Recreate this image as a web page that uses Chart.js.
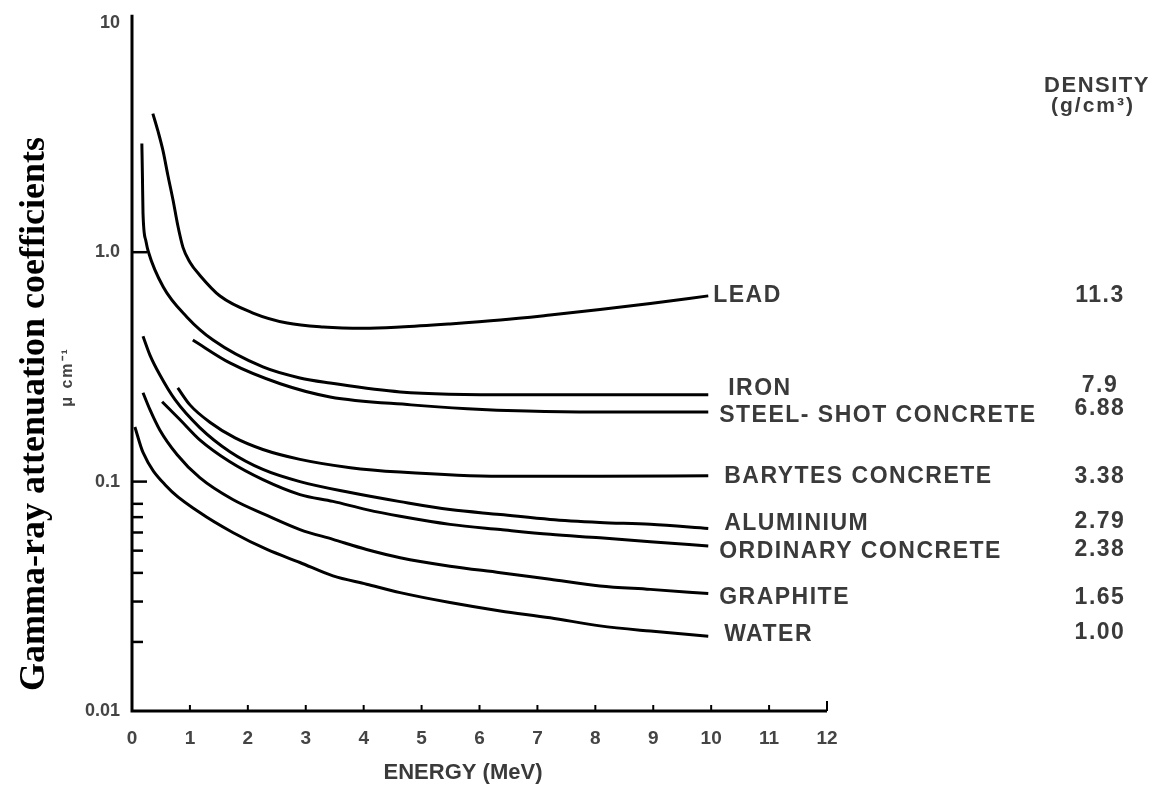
<!DOCTYPE html>
<html>
<head>
<meta charset="utf-8">
<script src="https://cdn.jsdelivr.net/npm/chart.js@4.4.1/dist/chart.umd.min.js"></script>
<style>
  html, body { margin: 0; padding: 0; background: #fff; }
  #wrap { width: 1152px; height: 785px; }
</style>
</head>
<body>
<div id="wrap"><canvas id="chart" width="1152" height="785"></canvas></div>
<script>
// Photon energy (MeV) and linear attenuation coefficient mu (cm^-1) per material
const leadEnergy     = [0.36, 0.45, 0.535, 0.62, 0.71, 0.79, 0.88, 1.00, 1.17, 1.52, 2.09, 2.68, 3.30, 4.00, 4.63, 5.49, 6.36, 7.22, 8.08, 8.95, 9.95];
const leadMu         = [4.02, 3.36, 2.77, 2.16, 1.68, 1.31, 1.05, 0.905, 0.794, 0.644, 0.543, 0.491, 0.472, 0.466, 0.472, 0.487, 0.506, 0.532, 0.562, 0.598, 0.645];

const ironEnergy     = [0.17, 0.18, 0.19, 0.24, 0.28, 0.54, 0.95, 1.40, 2.26, 2.90, 3.42, 4.63, 6.65, 9.95];
const ironMu         = [2.98, 2.16, 1.48, 1.12, 1.01, 0.705, 0.521, 0.414, 0.316, 0.283, 0.269, 0.246, 0.239, 0.239];

const steelShotEnergy = [1.05, 1.69, 2.56, 3.42, 4.82, 5.79, 6.82, 8.00, 9.95];
const steelShotMu     = [0.414, 0.329, 0.267, 0.234, 0.216, 0.208, 0.203, 0.201, 0.201];

const barytesEnergy  = [0.79, 1.00, 1.35, 1.78, 2.26, 2.90, 3.77, 4.63, 6.36, 8.08, 9.95];
const barytesMu      = [0.256, 0.216, 0.181, 0.155, 0.138, 0.125, 0.115, 0.110, 0.1054, 0.1054, 0.106];

const aluminiumEnergy = [0.19, 0.31, 0.48, 0.74, 1.17, 1.69, 2.26, 2.90, 3.77, 4.63, 5.49, 6.36, 7.22, 8.08, 8.95, 9.95];
const aluminiumMu     = [0.430, 0.356, 0.292, 0.228, 0.172, 0.135, 0.113, 0.100, 0.0896, 0.0818, 0.0755, 0.0719, 0.0684, 0.0664, 0.0651, 0.0625];

const concreteEnergy = [0.52, 0.83, 1.17, 1.69, 2.26, 2.90, 3.47, 4.05, 4.63, 5.49, 6.36, 7.22, 8.08, 8.95, 9.95];
const concreteMu     = [0.223, 0.186, 0.152, 0.122, 0.102, 0.0878, 0.0820, 0.0755, 0.0706, 0.0651, 0.0618, 0.0589, 0.0569, 0.0547, 0.0524];

const graphiteEnergy = [0.19, 0.31, 0.48, 0.78, 1.17, 1.74, 2.33, 2.90, 3.47, 4.05, 4.63, 5.49, 6.36, 7.22, 8.08, 8.95, 9.95];
const graphiteMu     = [0.244, 0.206, 0.168, 0.131, 0.104, 0.0835, 0.0712, 0.0618, 0.0560, 0.0506, 0.0466, 0.0428, 0.0401, 0.0375, 0.0351, 0.0339, 0.0325];

const waterEnergy    = [0.05, 0.19, 0.60, 1.17, 1.74, 2.33, 2.90, 3.47, 4.05, 4.63, 5.49, 6.36, 7.22, 8.08, 8.95, 9.95];
const waterMu        = [0.173, 0.134, 0.0951, 0.0733, 0.0600, 0.0506, 0.0444, 0.0388, 0.0357, 0.0328, 0.0297, 0.0273, 0.0255, 0.0235, 0.0223, 0.0212];

const materialNames     = ['LEAD', 'IRON', 'STEEL- SHOT CONCRETE', 'BARYTES CONCRETE', 'ALUMINIUM', 'ORDINARY CONCRETE', 'GRAPHITE', 'WATER'];
const materialDensities = ['11.3', '7.9', '6.88', '3.38', '2.79', '2.38', '1.65', '1.00'];

const energyTicks   = [0, 1, 2, 3, 4, 5, 6, 7, 8, 9, 10, 11, 12];
const muTicks       = [0.01, 0.1, 1, 10];
const muTickLabels  = ['0.01', '0.1', '1.0', '10'];
const muMinorTicks  = [0.02, 0.03, 0.04, 0.05, 0.06, 0.07, 0.08];

const energyTitle = 'ENERGY (MeV)';
const muTitle     = 'Gamma-ray attenuation coefficients';
const muUnit      = 'μ cm⁻¹';
const densityHead = ['DENSITY', '(g/cm³)'];

// ---- layout of the text column (pixels relative to the scales) ----
const labelDx = [2, 17, 8, 13, 13, 8, 8, 13];   // offset right of the E = 10 MeV position
const labelDy = [0, -6, 4, 1, -5, 6, 4, -1];     // offset from the curve's last point
const densDy  = [0, -3, -7, 0, -2, -2, 0, -2];   // density value offset from its label

const series = [
  [leadEnergy, leadMu], [ironEnergy, ironMu], [steelShotEnergy, steelShotMu],
  [barytesEnergy, barytesMu], [aluminiumEnergy, aluminiumMu], [concreteEnergy, concreteMu],
  [graphiteEnergy, graphiteMu], [waterEnergy, waterMu]
];

const toPoints = (xs, ys) => xs.map((x, i) => ({ x: x, y: ys[i] }));

const datasets = series.map((s, i) => ({
  label: materialNames[i],
  data: toPoints(s[0], s[1]),
  borderColor: '#000',
  borderWidth: 3,
  pointRadius: 0,
  fill: false,
  cubicInterpolationMode: 'monotone'
}));

const TEXT = '#3a3a3a';
const SANS = '"Liberation Sans", Arial, sans-serif';

const decor = {
  id: 'decor',
  afterDraw(chart) {
    const { ctx, chartArea: a } = chart;
    const xs = chart.scales.x, ys = chart.scales.y;
    ctx.save();
    ctx.letterSpacing = '0px';

    // axis lines
    ctx.strokeStyle = '#000';
    ctx.lineWidth = 3;
    ctx.beginPath();
    ctx.moveTo(a.left, a.top - 8);
    ctx.lineTo(a.left, a.bottom);
    ctx.lineTo(xs.getPixelForValue(12), a.bottom);
    ctx.stroke();

    // inward tick marks on the energy axis
    ctx.lineWidth = 2;
    energyTicks.forEach(v => {
      if (v === 0) return;
      const px = xs.getPixelForValue(v);
      ctx.beginPath();
      ctx.moveTo(px, a.bottom);
      ctx.lineTo(px, a.bottom - (v === 12 ? 10 : 6));
      ctx.stroke();
    });

    // inward tick marks on the mu axis
    ctx.lineWidth = 2.5;
    [1, 0.1].forEach(v => {
      const py = ys.getPixelForValue(v);
      ctx.beginPath(); ctx.moveTo(a.left, py); ctx.lineTo(a.left + 15, py); ctx.stroke();
    });
    muMinorTicks.forEach(v => {
      const py = ys.getPixelForValue(v);
      ctx.beginPath(); ctx.moveTo(a.left, py); ctx.lineTo(a.left + 11, py); ctx.stroke();
    });

    // energy axis title
    ctx.fillStyle = TEXT;
    ctx.font = 'bold 22px ' + SANS;
    ctx.textAlign = 'center';
    ctx.textBaseline = 'middle';
    ctx.fillText(energyTitle, 463, 773);

    // mu axis titles
    ctx.save();
    ctx.translate(44, 414);
    ctx.rotate(-Math.PI / 2);
    ctx.fillStyle = '#000';
    ctx.font = 'bold 36px "Liberation Serif", "Times New Roman", serif';
    ctx.textBaseline = 'alphabetic';
    ctx.fillText(muTitle, 0, 0);
    ctx.restore();

    ctx.save();
    ctx.translate(68, 377);
    ctx.rotate(-Math.PI / 2);
    ctx.fillStyle = '#444';
    ctx.font = 'bold 16px ' + SANS;
    ctx.letterSpacing = '2px';
    ctx.textBaseline = 'middle';
    ctx.textAlign = 'center';
    ctx.fillText(muUnit, 0, 0);
    ctx.restore();

    // material names and densities
    ctx.font = 'bold 23px ' + SANS;
    ctx.letterSpacing = '1.5px';
    ctx.textBaseline = 'middle';
    const x10 = xs.getPixelForValue(10);
    series.forEach((s, i) => {
      const lastMu = s[1][s[1].length - 1];
      const ly = ys.getPixelForValue(lastMu) + labelDy[i];
      ctx.textAlign = 'left';
      ctx.fillText(materialNames[i], x10 + labelDx[i], ly);
      ctx.textAlign = 'center';
      ctx.fillText(materialDensities[i], 1100, ly + densDy[i]);
    });

    // density column header
    ctx.textAlign = 'center';
    ctx.font = 'bold 22px ' + SANS;
    ctx.fillText(densityHead[0], 1097, 86);
    ctx.font = 'bold 21px ' + SANS;
    ctx.letterSpacing = '2px';
    ctx.fillText(densityHead[1], 1093, 106);

    ctx.restore();
  }
};

new Chart(document.getElementById('chart'), {
  type: 'line',
  data: { datasets: datasets },
  plugins: [decor],
  options: {
    responsive: false,
    animation: false,
    devicePixelRatio: 1,
    layout: { padding: { left: 0, right: 325, top: 20, bottom: 0 } },
    plugins: { legend: { display: false }, tooltip: { enabled: false } },
    scales: {
      x: {
        type: 'linear',
        min: 0, max: 12,
        afterBuildTicks: s => { s.ticks = energyTicks.map(v => ({ value: v })); },
        afterFit: s => { s.height = 74; },
        grid: { display: false, drawTicks: false },
        border: { display: false },
        ticks: {
          autoSkip: false, maxRotation: 0, padding: 16,
          color: '#444',
          font: { family: SANS, size: 19, weight: 'bold' },
          callback: v => String(v)
        }
      },
      y: {
        type: 'logarithmic',
        min: 0.01, max: 10,
        afterBuildTicks: s => { s.ticks = muTicks.map(v => ({ value: v })); },
        afterFit: s => { s.width = 132; },
        grid: { display: false, drawTicks: false },
        border: { display: false },
        ticks: {
          autoSkip: false, padding: 12,
          color: '#444',
          font: { family: SANS, size: 18, weight: 'bold' },
          callback: (v, i) => muTickLabels[i]
        }
      }
    }
  }
});
</script>
</body>
</html>
